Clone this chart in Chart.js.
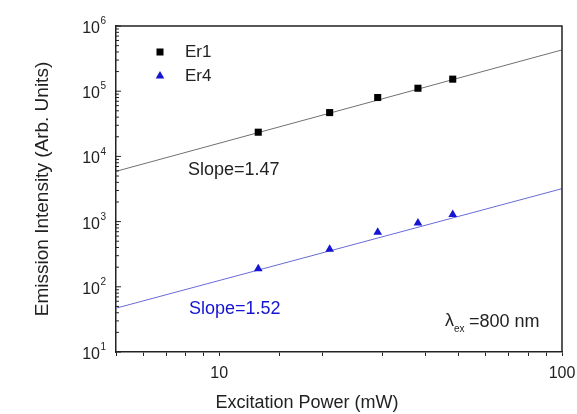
<!DOCTYPE html>
<html>
<head>
<meta charset="utf-8">
<title>Emission Intensity vs Excitation Power</title>
<script src="https://cdn.jsdelivr.net/npm/chart.js@4.4.1/dist/chart.umd.min.js"></script>
<style>
  html, body { margin: 0; padding: 0; background: #fff; }
  #wrap { width: 577px; height: 414px; }
</style>
</head>
<body>
<div id="wrap"><canvas id="grafico" width="577" height="414"></canvas></div>
<script>
// valores
const potencia = [13, 21, 29, 38, 48];
const er1 = [2.35e4, 4.7e4, 8.0e4, 1.11e5, 1.53e5];
const er4 = [190, 375, 685, 950, 1280];

// retas de ajuste (extremos do eixo x)
const potenciaAjuste = [5, 100];
const er1Ajuste = [5.9e3, 4.3e5];
const er4Ajuste = [47, 3200];

const rotulosX = [10, 100];
const expoentesY = [1, 2, 3, 4, 5, 6];
const nomesSeries = ["Er1", "Er4"];
const textosInclinacao = ["Slope=1.47", "Slope=1.52"];

const FONTE = '"Liberation Sans", Arial, sans-serif';
const COR_EIXO = "#222";
const AZUL = "#1414d2";

function pares(xs, ys) {
  return xs.map((x, i) => ({ x, y: ys[i] }));
}

const pluginExtras = {
  id: "extras",
  afterDraw(chart) {
    const ctx = chart.ctx;
    const area = chart.chartArea;
    const y = chart.scales.y;

    ctx.save();

    // moldura de cima e da direita
    ctx.strokeStyle = COR_EIXO;
    ctx.lineWidth = 1.5;
    ctx.beginPath();
    ctx.moveTo(area.left, area.top);
    ctx.lineTo(area.right, area.top);
    ctx.lineTo(area.right, area.bottom);
    ctx.stroke();

    // marcas do eixo y (para dentro)
    ctx.lineWidth = 1;
    expoentesY.forEach(e => {
      for (let m = 1; m <= 9; m++) {
        const v = m * Math.pow(10, e);
        if (v > y.max) break;
        const py = y.getPixelForValue(v);
        ctx.beginPath();
        ctx.moveTo(area.left, py);
        ctx.lineTo(area.left + (m === 1 ? 5 : 3), py);
        ctx.stroke();
      }
    });

    // rótulos do eixo y: 10 com expoente
    ctx.fillStyle = COR_EIXO;
    ctx.textBaseline = "middle";
    expoentesY.forEach(e => {
      const py = y.getPixelForValue(Math.pow(10, e));
      ctx.font = "16px " + FONTE;
      ctx.textAlign = "right";
      ctx.fillText("10", 100, py + 2.5);
      ctx.font = "10px " + FONTE;
      ctx.textAlign = "left";
      ctx.fillText(String(e), 100.5, py - 4.5);
    });

    // legenda
    const legY = [52, 76];
    ctx.fillStyle = "#000";
    ctx.fillRect(156.5, legY[0] - 3.5, 7, 7);
    ctx.fillStyle = AZUL;
    ctx.beginPath();
    ctx.moveTo(160, legY[1] - 5);
    ctx.lineTo(164.3, legY[1] + 2.5);
    ctx.lineTo(155.7, legY[1] + 2.5);
    ctx.closePath();
    ctx.fill();

    ctx.fillStyle = COR_EIXO;
    ctx.font = "17px " + FONTE;
    ctx.textAlign = "left";
    ctx.textBaseline = "middle";
    nomesSeries.forEach((nome, i) => ctx.fillText(nome, 185, legY[i]));

    // textos de inclinação
    ctx.font = "18px " + FONTE;
    ctx.fillStyle = COR_EIXO;
    ctx.fillText(textosInclinacao[0], 188, 170);
    ctx.fillStyle = AZUL;
    ctx.fillText(textosInclinacao[1], 189, 309);

    // lambda_ex = 800 nm
    ctx.fillStyle = COR_EIXO;
    ctx.font = "18px " + FONTE;
    ctx.fillText("λ", 445, 321);
    ctx.font = "10px " + FONTE;
    ctx.fillText("ex", 454, 329);
    ctx.font = "18px " + FONTE;
    ctx.fillText("=800 nm", 469, 322);

    // título do eixo x
    ctx.font = "18px " + FONTE;
    ctx.textAlign = "center";
    ctx.fillText("Excitation Power (mW)", 307, 403);

    ctx.restore();
  }
};

const ctx = document.getElementById("grafico").getContext("2d");

new Chart(ctx, {
  type: "scatter",
  data: {
    datasets: [
      {
        label: "Er1 fit",
        data: pares(potenciaAjuste, er1Ajuste),
        showLine: true,
        borderColor: "#707070",
        borderWidth: 1,
        pointRadius: 0,
        order: 3
      },
      {
        label: "Er4 fit",
        data: pares(potenciaAjuste, er4Ajuste),
        showLine: true,
        borderColor: "#6a6ad8",
        borderWidth: 1,
        pointRadius: 0,
        order: 3
      },
      {
        label: "Er1",
        data: pares(potencia, er1),
        pointStyle: "rect",
        pointRadius: 5,
        backgroundColor: "#000",
        borderColor: "#000",
        borderWidth: 0,
        order: 1
      },
      {
        label: "Er4",
        data: pares(potencia, er4),
        pointStyle: "triangle",
        pointRadius: 5,
        backgroundColor: AZUL,
        borderColor: AZUL,
        borderWidth: 0,
        order: 1
      }
    ]
  },
  options: {
    responsive: false,
    animation: false,
    layout: {
      padding: { left: 0, top: 26, right: 15, bottom: 0 }
    },
    plugins: {
      legend: { display: false },
      tooltip: { enabled: false }
    },
    scales: {
      x: {
        type: "logarithmic",
        min: 5,
        max: 100,
        afterFit: s => {
          s.height = 62;
          s.paddingLeft = 0;
          s.paddingRight = 0;
        },
        grid: {
          drawOnChartArea: false,
          drawTicks: true,
          tickLength: 4,
          color: COR_EIXO
        },
        border: { display: true, color: COR_EIXO, width: 1.5 },
        ticks: {
          autoSkip: false,
          maxRotation: 0,
          padding: 8,
          color: COR_EIXO,
          font: { family: FONTE, size: 16 },
          callback: v => rotulosX.includes(Number(v)) ? String(v) : ""
        }
      },
      y: {
        type: "logarithmic",
        min: 10,
        max: 1e6,
        afterFit: s => { s.width = 116; },
        grid: { display: false },
        border: { display: true, color: COR_EIXO, width: 1.5 },
        ticks: { display: false },
        title: {
          display: true,
          text: "Emission Intensity (Arb. Units)",
          color: COR_EIXO,
          font: { family: FONTE, size: 19 },
          padding: { top: 31, bottom: 0 }
        }
      }
    }
  },
  plugins: [pluginExtras]
});
</script>
</body>
</html>
